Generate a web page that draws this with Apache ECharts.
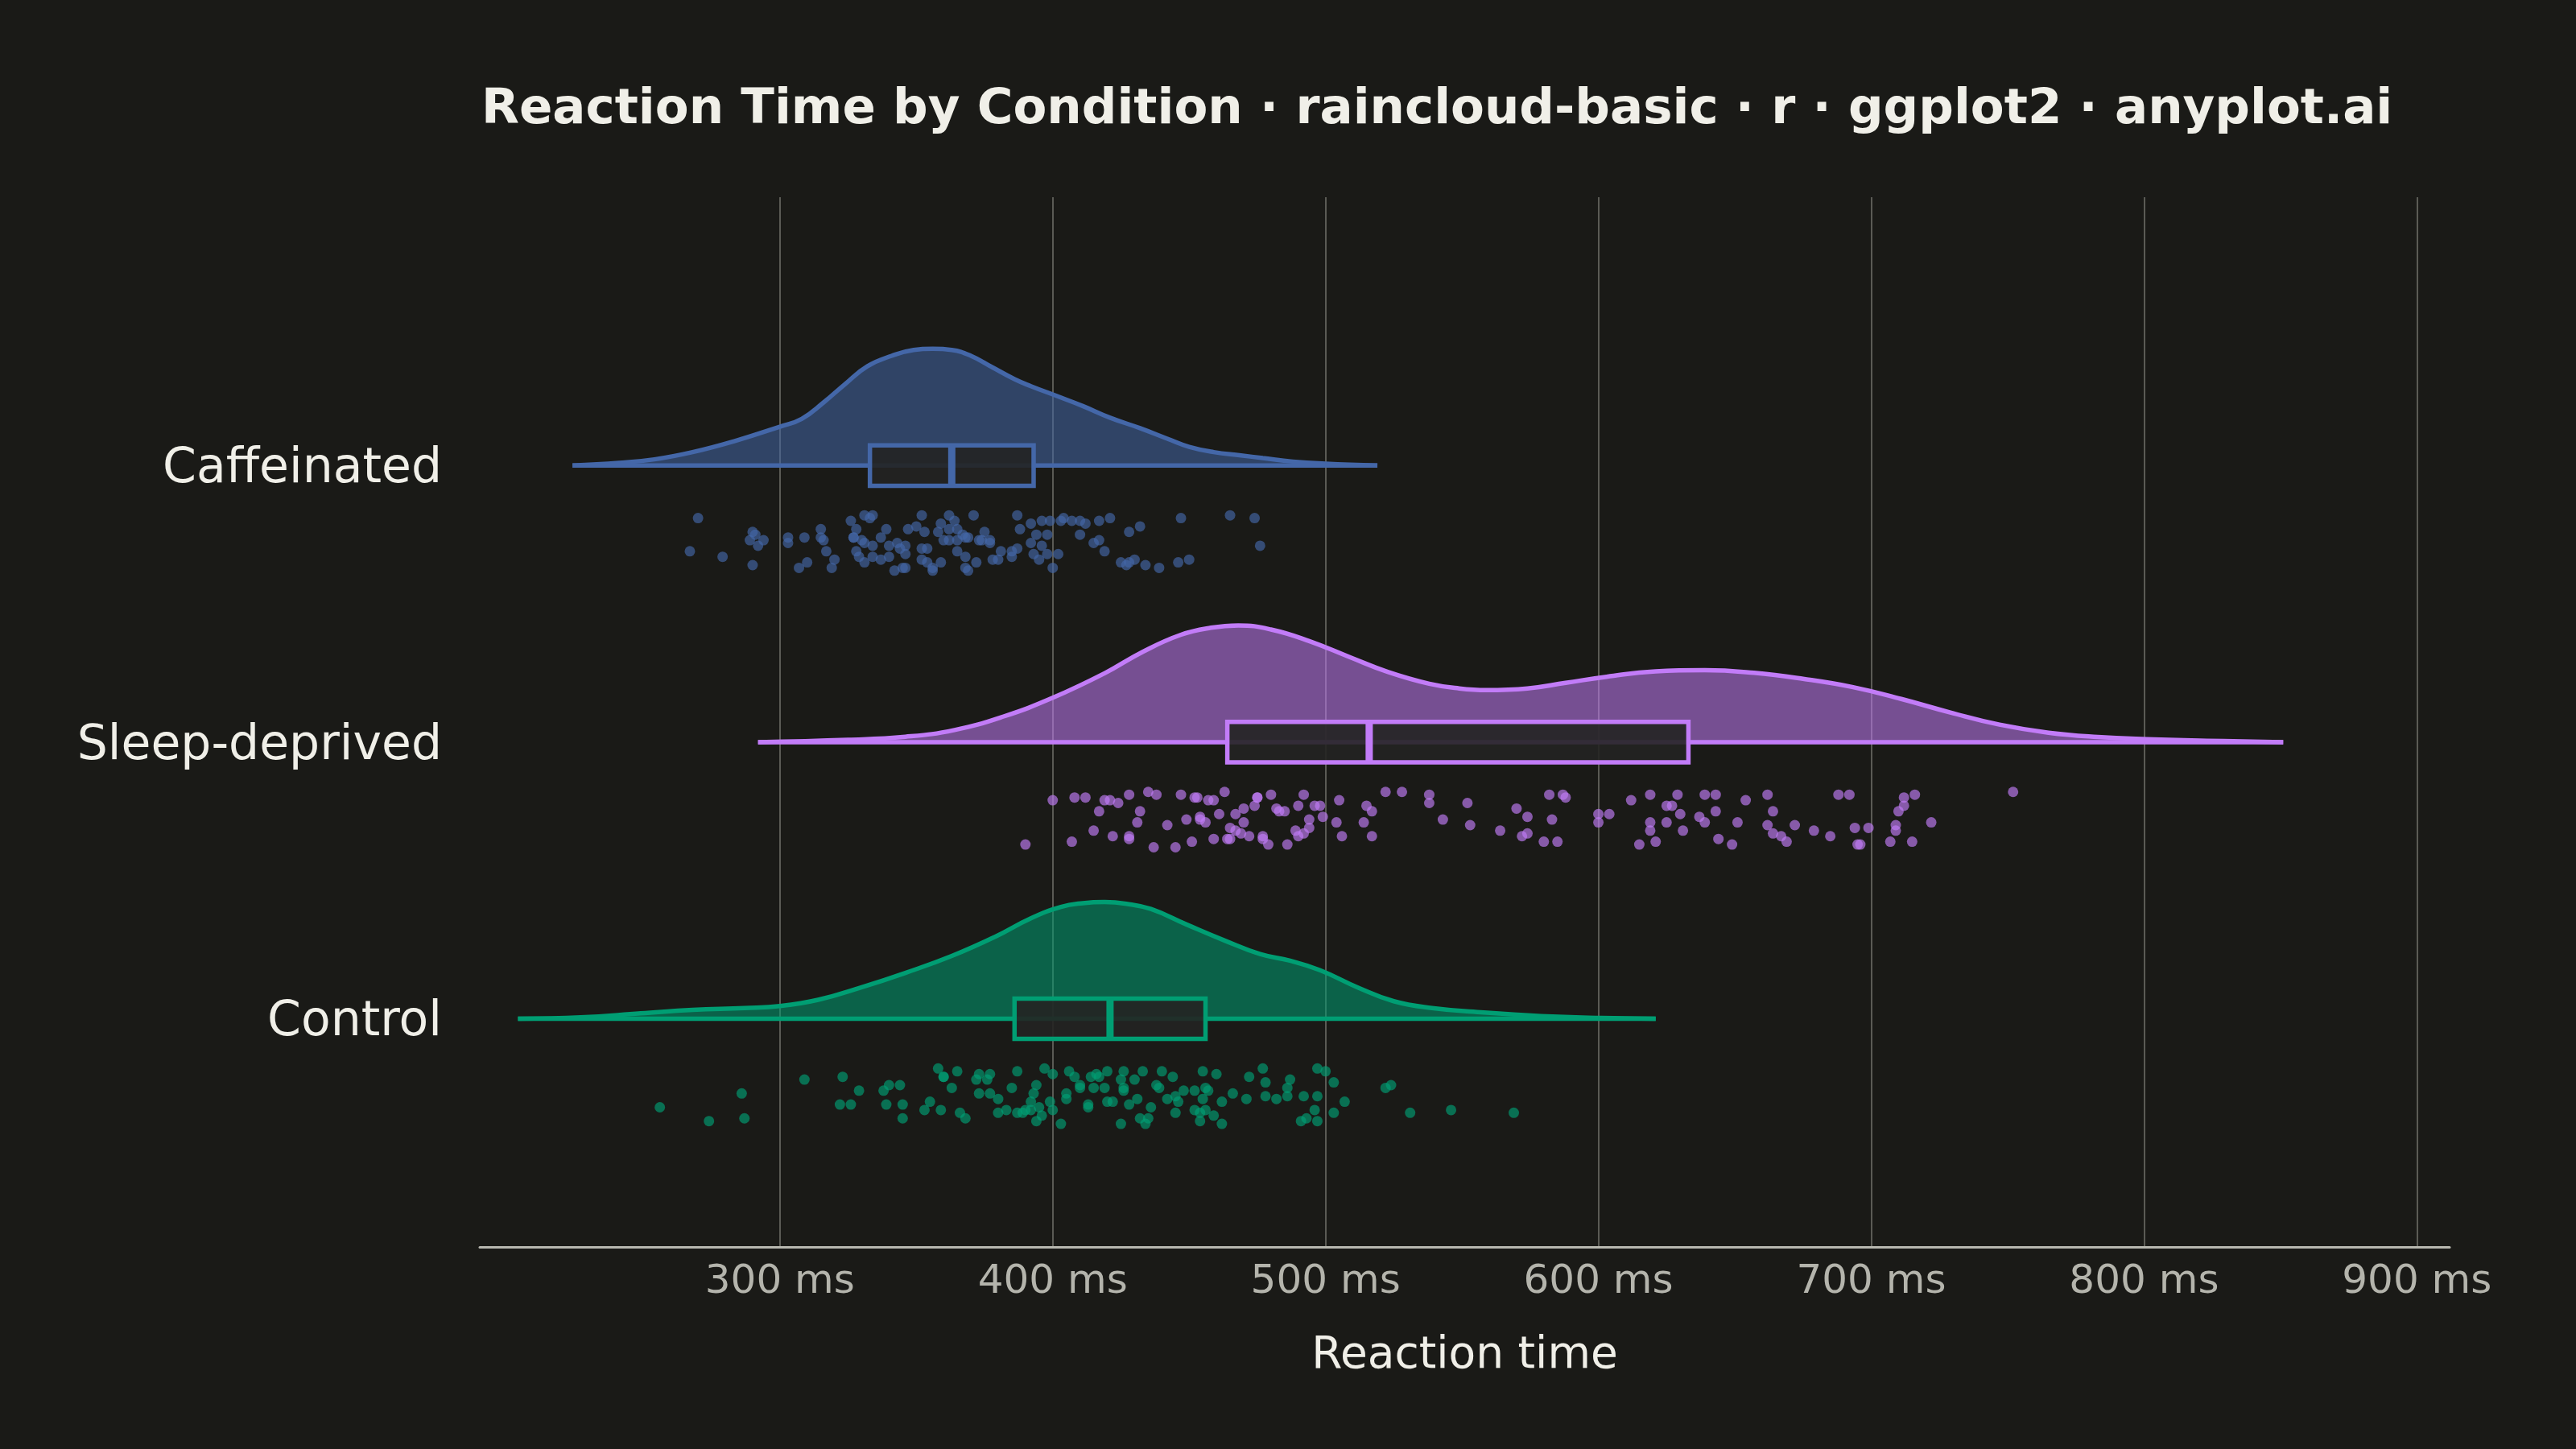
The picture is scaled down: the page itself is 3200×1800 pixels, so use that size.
<!DOCTYPE html>
<html>
<head>
<meta charset="utf-8">
<script src="https://cdn.jsdelivr.net/npm/echarts@6/dist/echarts.min.js"></script>
<style>
  html, body { margin: 0; padding: 0; background: #1A1A17; }
  #chart { width: 3200px; height: 1800px; }
</style>
</head>
<body>
<div id="chart"></div>
<script>
// groups, bottom to top on the y axis (1, 2, 3)
var groups = ['Control', 'Sleep-deprived', 'Caffeinated'];
var groupColors = ['#009E73', '#C27CF8', '#4467A8'];
var xTicks = [300, 400, 500, 600, 700, 800, 900];

// half-violin outlines: [ms, height relative to the peak]
var controlDens = [[204,0],[227,0.012],[249,0.046],[268,0.076],[287,0.092],[300,0.109],[314,0.162],[330,0.27],[346,0.393],
  [363,0.538],[379,0.704],[392,0.861],[403,0.958],[411,0.99],[419,1.0],[427,0.985],[436,0.94],[449,0.808],[463,0.67],[476,0.554],
  [487,0.497],[498,0.416],[512,0.266],[525,0.15],[539,0.092],[558,0.053],[579,0.023],[601,0.007],[621,0]];
var sleepDens = [[292,0],[325,0.02],[346,0.046],[364,0.104],[382,0.22],[400,0.38],[419,0.59],[433,0.774],[447,0.92],
  [458,0.98],[468,1.0],[480,0.965],[494,0.866],[509,0.727],[523,0.6],[538,0.5],[549,0.46],[559,0.446],[574,0.46],
  [588,0.508],[603,0.56],[621,0.607],[639,0.617],[657,0.594],[675,0.543],[693,0.473],[711,0.37],[729,0.254],
  [747,0.15],[765,0.081],[783,0.044],[801,0.025],[823,0.012],[851,0]];
var caffDens = [[224,0],[241,0.023],[254,0.053],[268,0.115],[283,0.207],[300,0.333],[308,0.4],[316,0.54],[324,0.7],
  [332,0.85],[341,0.94],[349,0.99],[356,1.0],[363,0.99],[370,0.94],[378,0.84],[386,0.74],[392,0.68],[401,0.6],
  [411,0.51],[421,0.41],[432,0.32],[442,0.23],[450,0.16],[459,0.115],[469,0.087],[477,0.064],[488,0.034],[500,0.016],[519,0]];

// box stats: [group position, q1, median, q3]
var boxStats = [[1, 386, 421, 456], [2, 464, 516, 633], [3, 333, 363, 393]];

// raw points: [ms, jitter below the group line]
var controlPts = [[256,0.32],[274,0.37],[286,0.27],[287,0.36],[309,0.22],[322,0.31],[323,0.21],[326,0.31],[329,0.26],
  [338,0.26],[339,0.31],[340,0.24],[344,0.24],[345,0.36],[345,0.31],[353,0.33],[355,0.30],[358,0.18],[359,0.33],
  [360,0.21],[360,0.21],[363,0.25],[365,0.19],[366,0.34],[368,0.36],[372,0.22],[373,0.20],[373,0.27],[376,0.22],
  [377,0.20],[377,0.27],[380,0.29],[380,0.34],[383,0.33],[385,0.25],[387,0.19],[387,0.34],[389,0.34],[390,0.33],
  [392,0.30],[392,0.33],[393,0.27],[394,0.24],[394,0.37],[395,0.32],[396,0.35],[397,0.18],[399,0.30],[400,0.20],
  [400,0.33],[403,0.38],[405,0.27],[405,0.29],[406,0.19],[408,0.21],[410,0.24],[410,0.25],[413,0.31],[413,0.32],
  [414,0.21],[415,0.25],[416,0.20],[417,0.21],[419,0.25],[420,0.19],[420,0.30],[422,0.30],[425,0.22],[425,0.38],
  [426,0.25],[426,0.19],[426,0.26],[428,0.31],[430,0.22],[431,0.29],[432,0.36],[433,0.19],[434,0.38],[435,0.36],
  [436,0.32],[438,0.24],[439,0.25],[440,0.19],[442,0.29],[444,0.21],[445,0.34],[445,0.28],[446,0.30],[448,0.26],
  [452,0.26],[452,0.33],[454,0.34],[455,0.29],[455,0.19],[456,0.25],[456,0.33],[454,0.37],[457,0.26],[459,0.35],
  [460,0.20],[462,0.30],[462,0.38],[466,0.27],[471,0.29],[472,0.21],[477,0.18],[478,0.23],[478,0.28],[482,0.29],
  [486,0.25],[487,0.22],[486,0.28],[491,0.37],[492,0.28],[493,0.36],[496,0.33],[497,0.28],[497,0.37],[497,0.18],
  [500,0.19],[503,0.23],[503,0.34],[507,0.30],[522,0.25],[524,0.24],[531,0.34],[546,0.33],[569,0.34]];
var sleepPts = [[390,0.37],[400,0.21],[407,0.36],[408,0.20],[412,0.20],[415,0.32],[417,0.25],[419,0.21],[421,0.21],
  [422,0.34],[424,0.22],[428,0.19],[428,0.35],[428,0.34],[431,0.29],[432,0.25],[435,0.18],[437,0.38],[438,0.19],
  [442,0.30],[445,0.38],[447,0.19],[449,0.28],[451,0.36],[452,0.20],[453,0.20],[454,0.27],[454,0.28],[456,0.29],
  [457,0.21],[459,0.21],[459,0.35],[461,0.26],[463,0.18],[464,0.35],[465,0.35],[465,0.31],[467,0.26],[467,0.32],
  [469,0.33],[470,0.29],[470,0.24],[472,0.34],[474,0.23],[475,0.20],[475,0.20],[477,0.34],[477,0.35],[479,0.37],
  [480,0.19],[482,0.24],[483,0.25],[485,0.25],[486,0.37],[489,0.32],[490,0.23],[490,0.34],[492,0.33],[492,0.19],
  [494,0.31],[494,0.28],[496,0.23],[498,0.23],[499,0.27],[504,0.29],[505,0.21],[506,0.34],[514,0.29],[515,0.23],
  [517,0.34],[517,0.25],[522,0.18],[528,0.18],[538,0.22],[538,0.19],[543,0.28],[552,0.22],[553,0.30],[564,0.32],
  [570,0.24],[572,0.34],[574,0.27],[574,0.33],[580,0.36],[582,0.19],[583,0.28],[585,0.36],[587,0.19],[588,0.20],
  [600,0.29],[600,0.26],[604,0.26],[612,0.21],[615,0.37],[619,0.19],[619,0.29],[619,0.32],[621,0.36],[625,0.23],
  [625,0.29],[627,0.23],[629,0.19],[630,0.26],[631,0.32],[637,0.27],[639,0.29],[639,0.19],[643,0.19],[643,0.25],
  [644,0.35],[649,0.37],[651,0.29],[654,0.21],[662,0.19],[662,0.30],[664,0.25],[664,0.33],[667,0.34],[669,0.36],
  [672,0.30],[679,0.32],[685,0.34],[688,0.19],[692,0.19],[694,0.31],[695,0.37],[696,0.37],[699,0.31],[707,0.36],
  [709,0.30],[709,0.32],[710,0.25],[712,0.23],[712,0.20],[715,0.36],[716,0.19],[722,0.29],[752,0.18]];
var caffPts = [[270,0.19],[267,0.31],[279,0.33],[290,0.24],[291,0.25],[289,0.27],[294,0.27],[292,0.29],[290,0.36],
  [303,0.26],[303,0.28],[309,0.26],[307,0.37],[310,0.35],[315,0.23],[315,0.26],[316,0.27],[317,0.31],[319,0.37],
  [320,0.34],[326,0.20],[328,0.23],[327,0.26],[327,0.26],[330,0.27],[331,0.28],[328,0.31],[329,0.33],[331,0.35],
  [331,0.18],[333,0.19],[334,0.18],[334,0.29],[334,0.33],[337,0.26],[337,0.34],[339,0.23],[340,0.29],[340,0.33],
  [342,0.38],[343,0.28],[344,0.30],[345,0.37],[346,0.37],[346,0.29],[346,0.32],[347,0.23],[350,0.22],[352,0.18],
  [353,0.24],[354,0.30],[352,0.30],[352,0.34],[354,0.35],[356,0.37],[356,0.38],[359,0.35],[358,0.24],[359,0.21],
  [362,0.18],[364,0.20],[362,0.23],[365,0.23],[360,0.27],[362,0.27],[365,0.27],[367,0.25],[369,0.26],[368,0.26],
  [365,0.31],[368,0.33],[368,0.37],[369,0.38],[372,0.35],[371,0.18],[375,0.24],[373,0.27],[374,0.27],[377,0.27],
  [377,0.28],[378,0.34],[380,0.34],[381,0.31],[385,0.31],[385,0.33],[387,0.30],[387,0.18],[388,0.23],[392,0.28],
  [392,0.21],[394,0.25],[396,0.20],[396,0.29],[398,0.25],[399,0.20],[398,0.32],[393,0.32],[395,0.34],[400,0.37],
  [402,0.32],[403,0.20],[404,0.19],[407,0.20],[410,0.20],[410,0.25],[412,0.21],[415,0.28],[417,0.20],[417,0.27],
  [419,0.31],[421,0.19],[425,0.35],[427,0.36],[428,0.35],[430,0.34],[428,0.24],[432,0.22],[434,0.36],[439,0.37],
  [446,0.35],[447,0.19],[450,0.34],[465,0.18],[474,0.19],[476,0.29]];

var VIOLIN_H = 0.422;   // peak height in y units
var BOX_HALF = 0.073;
var FONT = '"DejaVu Sans", "Noto Sans", sans-serif';

var densities = [controlDens, sleepDens, caffDens];
var points = [controlPts, sleepPts, caffPts];

function violinSeries(i) {
    var base = i + 1;
    return {
        type: 'line',
        data: densities[i].map(function (d) { return [d[0], base + d[1] * VIOLIN_H]; }),
        smooth: 0.45,
        showSymbol: false,
        silent: true,
        lineStyle: { color: groupColors[i], width: 5.5 },
        areaStyle: { color: groupColors[i], opacity: 0.55, origin: base },
        z: 2
    };
}

function baselineSeries(i) {
    var d = densities[i];
    return {
        type: 'line',
        data: [[d[0][0], i + 1], [d[d.length - 1][0], i + 1]],
        showSymbol: false,
        silent: true,
        lineStyle: { color: groupColors[i], width: 5.5 },
        z: 2
    };
}

function pointSeries(i) {
    var base = i + 1;
    return {
        type: 'scatter',
        data: points[i].map(function (p) { return [p[0], base - p[1]]; }),
        symbolSize: 13,
        itemStyle: { color: groupColors[i], opacity: 0.65 },
        silent: true,
        z: 4
    };
}

var series = [];
for (var i = 0; i < 3; i++) series.push(violinSeries(i));
for (var i = 0; i < 3; i++) series.push(baselineSeries(i));
series.push({
    type: 'custom',
    data: boxStats,
    silent: true,
    z: 3,
    renderItem: function (params, api) {
        var base = api.value(0);
        var c = groupColors[params.dataIndex];
        var tl = api.coord([api.value(1), base + BOX_HALF]);
        var br = api.coord([api.value(3), base - BOX_HALF]);
        var mt = api.coord([api.value(2), base + BOX_HALF]);
        var mb = api.coord([api.value(2), base - BOX_HALF]);
        return {
            type: 'group',
            children: [{
                type: 'rect',
                shape: { x: tl[0], y: tl[1], width: br[0] - tl[0], height: br[1] - tl[1] },
                style: { fill: 'rgba(36,36,34,0.9)', stroke: c, lineWidth: 5.5 }
            }, {
                type: 'line',
                shape: { x1: mt[0], y1: mt[1], x2: mb[0], y2: mb[1] },
                style: { stroke: c, lineWidth: 9 }
            }]
        };
    }
});
for (var i = 0; i < 3; i++) series.push(pointSeries(i));

var chart = echarts.init(document.getElementById('chart'), null, { renderer: 'canvas' });
chart.setOption({
    backgroundColor: '#1A1A17',
    animation: false,
    textStyle: { fontFamily: FONT },
    title: {
        text: 'Reaction Time by Condition · raincloud-basic · r · ggplot2 · anyplot.ai',
        left: 593,
        top: 102,
        textStyle: { color: '#F0EFE8', fontSize: 61, fontWeight: 'bold', fontFamily: FONT, lineHeight: 61 }
    },
    grid: { left: 596, right: 157, top: 245, bottom: 251 },
    xAxis: {
        type: 'value',
        min: 190,
        max: 912,
        name: 'Reaction time',
        nameLocation: 'middle',
        nameGap: 108,
        nameTextStyle: { color: '#F0EFE8', fontSize: 55, fontFamily: FONT },
        axisLine: { show: true, lineStyle: { color: '#B8B8B0', width: 3 } },
        axisTick: { show: false, customValues: xTicks },
        axisLabel: {
            customValues: xTicks,
            formatter: '{value} ms',
            color: '#B4B4AC',
            fontSize: 50,
            margin: 19,
            fontFamily: FONT
        },
        splitLine: { show: true, lineStyle: { color: '#72726B', width: 1.5 } }
    },
    yAxis: {
        type: 'value',
        min: 0.175,
        max: 3.97,
        axisLine: { show: false },
        axisTick: { show: false, customValues: [1, 2, 3] },
        splitLine: { show: false },
        axisLabel: {
            customValues: [1, 2, 3],
            formatter: function (v) { return groups[Math.round(v) - 1]; },
            color: '#F0EFE8',
            fontSize: 60,
            margin: 47,
            verticalAlign: 'top',
            lineHeight: 10,
            fontFamily: FONT
        }
    },
    series: series
});
</script>
</body>
</html>
